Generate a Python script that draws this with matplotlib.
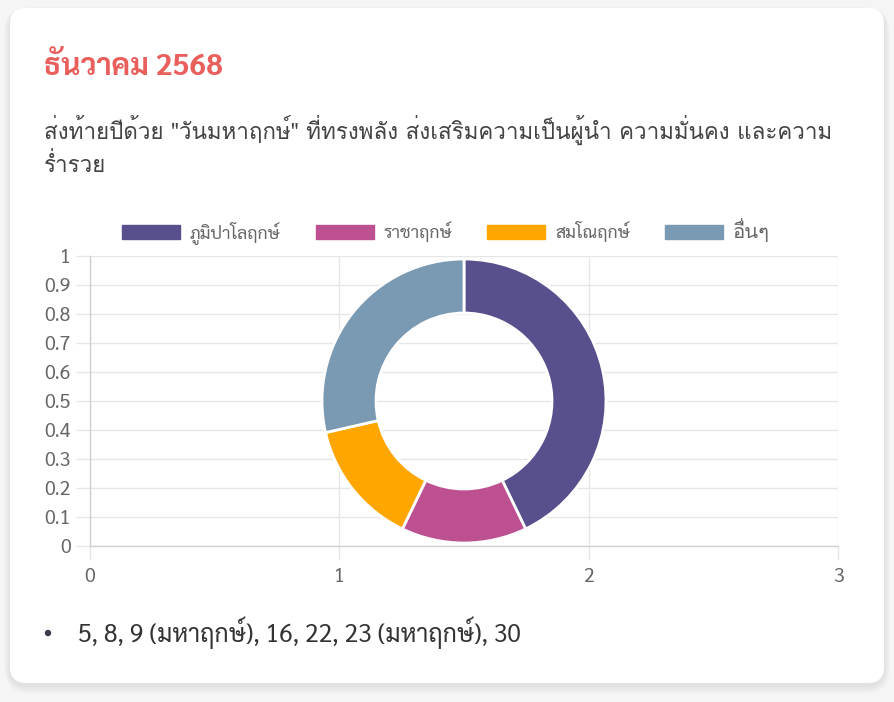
import matplotlib
matplotlib.use('Agg')
import matplotlib.pyplot as plt
from matplotlib.patches import FancyBboxPatch, Patch, Circle
import numpy as np

# ---- data ----
title = "ธันวาคม 2568"
subtitle_lines = ['ส่งท้ายปีด้วย "วันมหาฤกษ์" ที่ทรงพลัง ส่งเสริมความเป็นผู้นำ ความมั่นคง และความ',
                  'ร่ำรวย']
categories = ["ภูมิปาโลฤกษ์", "ราชาฤกษ์", "สมโณฤกษ์", "อื่นๆ"]
values = [3, 1, 1, 2]
colors = ["#58508d", "#bc5090", "#ffa600", "#7a99b3"]
x_ticks = [0, 1, 2, 3]
y_ticks = [0, 0.1, 0.2, 0.3, 0.4, 0.5, 0.6, 0.7, 0.8, 0.9, 1]
y_tick_labels = ["0", "0.1", "0.2", "0.3", "0.4", "0.5", "0.6", "0.7", "0.8", "0.9", "1"]
bullet_text = "5, 8, 9 (มหาฤกษ์), 16, 22, 23 (มหาฤกษ์), 30"

SANS = ['Sarabun', 'DejaVu Sans']
THAI_STACK = ['Loma', 'Sarabun', 'DejaVu Sans']   # renders stacked Thai marks correctly
plt.rcParams['font.family'] = SANS

W, H = 895, 702
fig = plt.figure(figsize=(W / 100, H / 100), dpi=100)
fig.patch.set_facecolor('#f5f5f6')
renderer = fig.canvas.get_renderer()

def px(x, y):
    return x / W, 1 - y / H

def fit(text, target_px, **kw):
    t = fig.text(0, 0, text, fontsize=10, **kw)
    w = t.get_window_extent(renderer).width
    t.remove()
    return 10 * target_px / w

# card shadow + card
for i in range(10):
    o = 10 - i
    sh = FancyBboxPatch((10 - o * 0.6, H - 683 - o * 0.9 - 2), 874 + o * 1.2, 675 + o * 1.2,
                        boxstyle="round,pad=0,rounding_size=%d" % (16 + o),
                        transform=None, facecolor='#000000', alpha=0.009, edgecolor='none', zorder=-20)
    fig.patches.append(sh)
card = FancyBboxPatch((10, H - 683), 874, 675, boxstyle="round,pad=0,rounding_size=16",
                      transform=None, facecolor='white', edgecolor='none', zorder=-10)
fig.patches.append(card)

# title & subtitle
fs_title = fit(title, 179, fontweight='bold', family=SANS)
fig.text(*px(44, 75), title, fontsize=fs_title, fontweight='bold', color='#e85f5c',
         va='baseline', ha='left', family=SANS)
fs_sub = fit(subtitle_lines[0], 788, family=THAI_STACK)
fig.text(*px(44, 139), subtitle_lines[0], fontsize=fs_sub, color='#444444', va='baseline', ha='left', family=THAI_STACK)
fig.text(*px(44, 172), subtitle_lines[1], fontsize=fs_sub, color='#444444', va='baseline', ha='left', family=THAI_STACK)

# axes
ax_left, ax_right, ax_top, ax_bottom = 90, 838, 256, 546
rect = [ax_left / W, 1 - ax_bottom / H, (ax_right - ax_left) / W, (ax_bottom - ax_top) / H]
ax = fig.add_axes(rect)
ax.set_facecolor('none')
ax.set_xlim(0, 3)
ax.set_ylim(0, 1)
ax.set_xticks(x_ticks)
ax.set_xticklabels([str(t) for t in x_ticks])
ax.set_yticks(y_ticks)
ax.set_yticklabels(y_tick_labels)
ax.grid(True, color='#e6e6e6', linewidth=1)
for s in ['top', 'right']:
    ax.spines[s].set_visible(False)
for s in ['left', 'bottom']:
    ax.spines[s].set_color('#d0d0d0')
    ax.spines[s].set_linewidth(1)
fs_tick = fit("0.9", 24, family=SANS) * 1.1
ax.tick_params(axis='both', colors='#e6e6e6', labelcolor='#666666', labelsize=fs_tick, length=10, width=1)
ax.tick_params(axis='y', pad=4)
ax.tick_params(axis='x', pad=6)
for lbl in ax.get_xticklabels() + ax.get_yticklabels():
    lbl.set_family(SANS)
ax.set_axisbelow(True)

# donut overlay in pixel units
pw, ph = ax_right - ax_left, ax_bottom - ax_top
ax2 = fig.add_axes(rect)
ax2.pie(values, colors=colors, startangle=90, counterclock=False, radius=142,
        center=(pw / 2, ph / 2), wedgeprops=dict(width=54, edgecolor='white', linewidth=2))
ax2.set_xlim(0, pw)
ax2.set_ylim(0, ph)
ax2.set_aspect('auto')
ax2.axis('off')

# legend
fs_leg = fit(categories[0], 88, family=SANS) * 1.04
fpx = fs_leg * 100 / 72
handles = [Patch(facecolor=c, edgecolor=c, label=l) for c, l in zip(colors, categories)]
leg = fig.legend(handles=handles, loc='center', bbox_to_anchor=px(446, 231), ncol=4,
                 frameon=False, handlelength=58 / fpx, handleheight=15 / fpx,
                 handletextpad=10 / fpx, columnspacing=35 / fpx, borderpad=0, borderaxespad=0,
                 prop={'family': SANS, 'size': fs_leg})
for t in leg.get_texts():
    t.set_color('#666666')
leg.get_texts()[3].set_family(THAI_STACK)
leg.get_texts()[3].set_fontsize(fit(categories[3], 37, family=THAI_STACK))

# bullet list
fig.patches.append(Circle((48, H - 633), 3.2, transform=None, facecolor='#3a3a4a', edgecolor='none'))
fs_bul = fit(bullet_text, 442, family=SANS)
fig.text(*px(78, 642), bullet_text, fontsize=fs_bul, color='#333333', va='baseline', ha='left', family=SANS)

fig.savefig('out.png', dpi=100, facecolor=fig.get_facecolor())
